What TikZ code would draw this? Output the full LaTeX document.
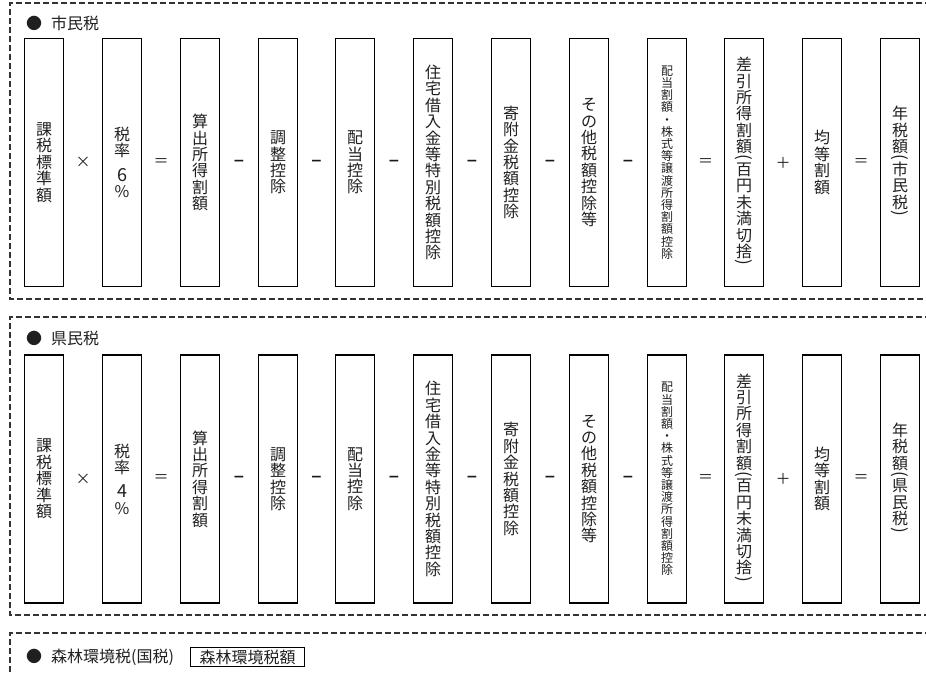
\documentclass[tikz,border=0pt]{standalone}
\usepackage{fontspec}
\usepackage{graphicx}
\usetikzlibrary{calc}
\setmainfont{Noto Sans CJK JP}
\newfontfamily\dejavu{DejaVu Sans}
\newcommand\vlp{\rotatebox[origin=c]{-90}{\fontsize{17}{17}\selectfont(}}
\newcommand\vrp{\rotatebox[origin=c]{-90}{\fontsize{17}{17}\selectfont)}}
\newcommand\vfont{\fontsize{16}{16.4}\selectfont\lineskiplimit=-30pt\relax\lineskip=0pt\relax}
\newcommand\vfonts{\fontsize{12}{12.2}\selectfont\lineskiplimit=-30pt\relax\lineskip=0pt\relax}
\newcommand\digfont{\fontsize{18}{15}\selectfont\lineskiplimit=-30pt\relax\lineskip=0pt\relax}
\tikzset{
  frame/.style={draw=black!80, line width=1.2pt, dash pattern=on 6pt off 3pt},
  vbox/.style={draw=black, line width=1.1pt, minimum width=39pt, minimum height=248pt,
    inner sep=0pt, align=center, text=black!88, font=\vfont},
  vboxs/.style={vbox, font=\vfonts},
  op/.style={inner sep=0pt, text=black!85, font=\fontsize{15}{15}\selectfont},
  opm/.style={inner sep=0pt, text=black!90, font=\dejavu\bfseries\fontsize{14}{14}\selectfont},
  ttl/.style={inner sep=0pt, anchor=west, text=black!88, font=\fontsize{16}{16}\selectfont},
  hbox/.style={draw=black, line width=1.1pt, minimum width=114pt, minimum height=19pt,
    inner sep=0pt, text=black!88, font=\fontsize{16}{16}\selectfont},
}
\newcommand\taxrow[4]{%
  % #1 row id, #2 y centre, #3 title y, #4 rate
  \node[vbox] (b#1a) at (44,#2) {課\\税\\標\\準\\額};
  \node[vbox] (b#1b) at (122,#2) {税\\率\\[8pt]\digfont #4\\\%};
  \node[vbox] (b#1c) at (200,#2) {算\\出\\所\\得\\割\\額};
  \node[vbox] (b#1d) at (278,#2) {調\\整\\控\\除};
  \node[vbox] (b#1e) at (355,#2) {配\\当\\控\\除};
  \node[vbox] (b#1f) at (433,#2) {住\\宅\\借\\入\\金\\等\\特\\別\\税\\額\\控\\除};
  \node[vbox] (b#1g) at (511,#2) {寄\\附\\金\\税\\額\\控\\除};
  \node[vbox] (b#1h) at (589,#2) {そ\\の\\他\\税\\額\\控\\除\\等};
  \node[vboxs] (b#1i) at (667,#2) {配\\当\\割\\額\\・\\株\\式\\等\\譲\\渡\\所\\得\\割\\額\\控\\除};
  \node[vbox] (b#1j) at (744,#2) {差\\引\\所\\得\\割\\額\\[-6pt]\vlp\\[-4pt]百\\円\\未\\満\\切\\捨\\[-6pt]\vrp};
  \node[vbox] (b#1k) at (822,#2) {均\\等\\割\\額};
  \node[vbox] (b#1l) at (900,#2) {年\\税\\額\\[-6pt]\vlp\\[-4pt]\rowname{#1}\\[-6pt]\vrp};
  \node[op]  (o#1a) at ($(b#1a.east)!0.5!(b#1b.west)$) {×};
  \node[op]  (o#1b) at ($(b#1b.east)!0.5!(b#1c.west)$) {＝};
  \node[opm] (o#1c) at ($(b#1c.east)!0.5!(b#1d.west)$) {−};
  \node[opm] (o#1d) at ($(b#1d.east)!0.5!(b#1e.west)$) {−};
  \node[opm] (o#1e) at ($(b#1e.east)!0.5!(b#1f.west)$) {−};
  \node[opm] (o#1f) at ($(b#1f.east)!0.5!(b#1g.west)$) {−};
  \node[opm] (o#1g) at ($(b#1g.east)!0.5!(b#1h.west)$) {−};
  \node[opm] (o#1h) at ($(b#1h.east)!0.5!(b#1i.west)$) {−};
  \node[op]  (o#1i) at ($(b#1i.east)!0.5!(b#1j.west)$) {＝};
  \node[op]  (o#1j) at ($(b#1j.east)!0.5!(b#1k.west)$) {＋};
  \node[op]  (o#1k) at ($(b#1k.east)!0.5!(b#1l.west)$) {＝};
}
\newcommand\rowname[1]{\ifnum#1=1 市\\民\\税\else 県\\民\\税\fi}
\begin{document}
\begin{tikzpicture}[x=1pt,y=-1pt]
\useasboundingbox (0,0) rectangle (926,672);
\clip (0,0) rectangle (926,672);
\draw[frame] (940,3) -- (10,3) -- (10,299) -- (940,299);
\draw[frame] (940,317) -- (10,317) -- (10,615) -- (940,615);
\draw[frame] (940,633) -- (10,633) -- (10,690);
\node[ttl] (t1) at (26,23) {●\hspace{9pt}市民税};
\taxrow{1}{162.5}{23}{6}
\node[ttl] (t2) at (26,338) {●\hspace{9pt}県民税};
\taxrow{2}{479}{338}{4}
\node[ttl] (t3) at (26,657) {●\hspace{9pt}森林環境税(国税)};
\node[hbox] (h3) at (247.5,657) {森林環境税額};
\end{tikzpicture}
\end{document}
